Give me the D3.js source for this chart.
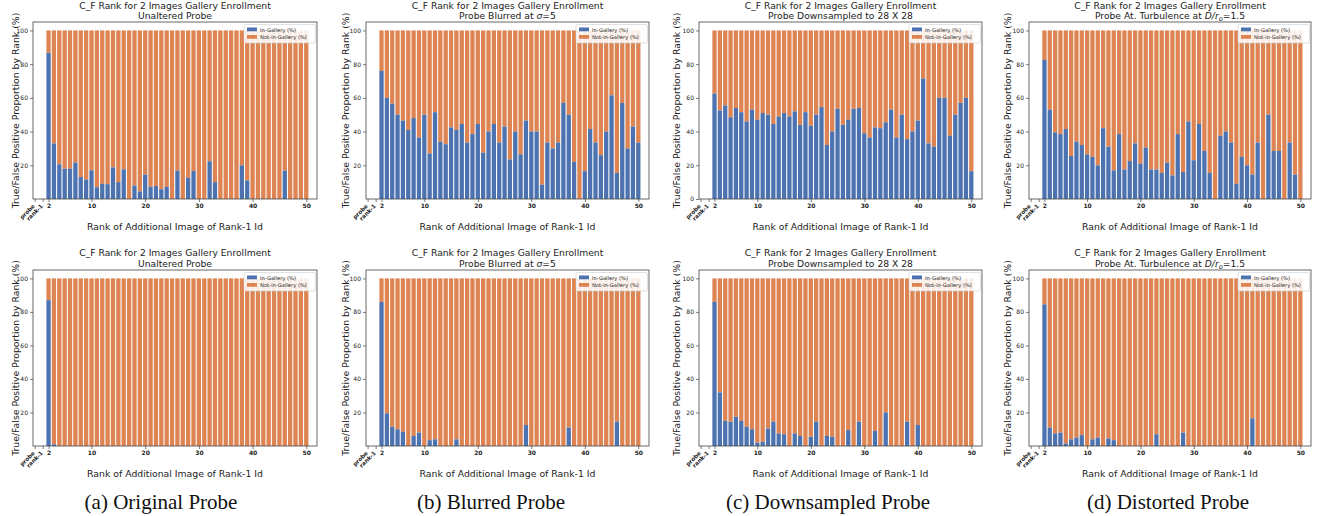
<!DOCTYPE html>
<html>
<head>
<meta charset="utf-8">
<script src="https://cdn.jsdelivr.net/npm/d3@7"></script>
<style>
  body { margin: 0; background: #fff; }
  svg { display: block; font-family: "DejaVu Sans", sans-serif; }
  .tick text { fill: #222; }
</style>
</head>
<body>
<svg id="fig" width="1320" height="516"></svg>
<script>
"use strict";

// rank of the additional image (x categories)
const ranks = [2,3,4,5,6,7,8,9,10,11,12,13,14,15,16,17,18,19,20,21,22,23,24,25,26,
  27,28,29,30,31,32,33,34,35,36,37,38,39,40,41,42,43,44,45,46,47,48,49,50];

// In-Gallery (%) per rank, top row
const origTop = [86.7,33,20.6,18,18,21.6,13,11.5,17,7,9,8.8,18.8,10,17.6,0,8,4.5,14.5,7.3,7.7,5.8,7.2,0,16.8,
  0,12.6,16.6,0,0,22.4,10,0,0,0,0,20,11,0,0,0,0,0,0,16.8,0,0,0,0];
const blurTop = [76,60,56.5,50,46.5,41,48,36.5,50,27,51.5,34,32.5,42.5,41,44.5,33.5,38.5,44.5,27.5,40,44.5,33.5,43,23.5,
  40,26.5,46.5,40,40,8.5,33.5,30,33.5,57,50,22,0,16.5,41.5,33.5,26,40,61.5,15.5,57,30,43,33.5];
const downTop = [62.5,52.5,55.5,48.5,54,51.5,46,53,47,51,50,44.5,49,51,49,52,44,51.5,43.5,50,54.5,32,40,53.5,44,
  47,53.5,54,39,36.5,42.5,42,45.5,53,36.5,50,35.5,40,46.5,71.5,33,31,60,60,37.5,50,57,60,16.5];
const distTop = [82.5,53,39.5,38.5,41.5,25.5,34,32,26.5,25,20,42,31,17,38.5,17.5,22.5,33,21,30.5,17.5,17.5,15.5,21.5,14,
  38.5,16,46,23,44.5,28.5,15.5,0,37.5,40,33.5,9,25,20,14.5,33.5,0,50,28.5,28.5,0,33.5,14.5,0];

// In-Gallery (%) per rank, bottom row
const origBottom = [87,1,0,0,0,0,0,0,0,0,0,0,0,0,0,0,0,0,0,0,0,0,0,0,0,
  0,0,0,0,0,0,0,0,0,0,0,0,0,0,0,0,0,0,0,0,0,0,0,0];
const blurBottom = [86,19.5,11.5,10,8.5,0,6,8,0,3.5,4,0,0,0,4,0,0,0,0,0,0,0,0,0,0,
  0,0,12.5,0,0,0,0,0,0,0,11,0,0,0,0,0,0,0,0,14.5,0,0,0,0];
const downBottom = [86,32,15,14.5,17.5,15,11.5,10,2,2.5,10.5,14.5,7.5,7,0,7.5,6,0,5.5,14.5,0,6,5.5,0,0,
  9.5,0,14.5,0,0,9,0,20,0,0,0,14.5,0,12.5,0,0,0,0,0,0,0,0,0,0];
const distBottom = [84.5,11,7.5,8,1.5,4,5,6.5,0,4,5,0,4.5,3.5,0,0,0,0,0,0,0,7,0,0,0,
  0,8,0,0,0,0,0,0,0,0,0,0,0,0,16.5,0,0,0,0,0,0,0,0,0];

const xTicks = [2,10,20,30,40,50];
const yTicks = [20,40,60,80,100];
const yTicksWithZero = [0,20,40,60,80,100];
const seriesNames = ["In-Gallery (%)", "Not-in-Gallery (%)"];
const captions = ["(a) Original Probe", "(b) Blurred Probe", "(c) Downsampled Probe", "(d) Distorted Probe"];

const blue = "#4c72b0", orange = "#dd8452";

// column geometry (plot frame left/right) and row geometry
const cols = [
  {L: 33, R: 317, yl: 15},
  {L: 366, R: 649, yl: 345},
  {L: 699, R: 982, yl: 676},
  {L: 1029, R: 1311, yl: 1007}
];
const rows = [
  {T: 22, B: 199, t1: 8.5, t2: 19},
  {T: 270, B: 446, t1: 255.5, t2: 266.5}
];

const subtitles = [
  [{t: "Unaltered Probe"}],
  [{t: "Probe Blurred at "}, {t: "σ", i: true}, {t: "=5"}],
  [{t: "Probe Downsampled to 28 X 28"}],
  [{t: "Probe At. Turbulence at "}, {t: "D/r", i: true}, {t: "o", i: true, sub: true}, {t: "=1.5"}]
];

const panels = [
  {row: 0, col: 0, data: origTop, yt: yTicks},
  {row: 0, col: 1, data: blurTop, yt: yTicks},
  {row: 0, col: 2, data: downTop, yt: yTicksWithZero},
  {row: 0, col: 3, data: distTop, yt: yTicks},
  {row: 1, col: 0, data: origBottom, yt: yTicks},
  {row: 1, col: 1, data: blurBottom, yt: yTicks},
  {row: 1, col: 2, data: downBottom, yt: yTicks},
  {row: 1, col: 3, data: distBottom, yt: yTicks}
];

const svg = d3.select("#fig");

panels.forEach(p => {
  const c = cols[p.col], r = rows[p.row];
  const x = d3.scaleLinear().domain([-0.9, 52]).range([c.L, c.R]);
  const y = d3.scaleLinear().domain([0, 105]).range([r.B, r.T]);
  const g = svg.append("g");
  const cx = (c.L + c.R) / 2;

  const rows2 = ranks.map((k, i) => ({k: k, v: p.data[i]}));

  // orange (not in gallery) stacked on top of blue
  g.selectAll("rect.ng").data(rows2).enter().append("rect")
    .attr("class", "ng")
    .attr("x", d => x(d.k - 0.4))
    .attr("width", d => x(d.k + 0.4) - x(d.k - 0.4))
    .attr("y", d => y(100))
    .attr("height", d => y(d.v) - y(100))
    .attr("fill", orange);

  g.selectAll("rect.ig").data(rows2.filter(d => d.v > 0)).enter().append("rect")
    .attr("class", "ig")
    .attr("x", d => x(d.k - 0.4))
    .attr("width", d => x(d.k + 0.4) - x(d.k - 0.4))
    .attr("y", d => y(d.v))
    .attr("height", d => y(0) - y(d.v))
    .attr("fill", blue);

  // frame
  g.append("rect")
    .attr("x", c.L).attr("y", r.T)
    .attr("width", c.R - c.L).attr("height", r.B - r.T)
    .attr("fill", "none").attr("stroke", "#444").attr("stroke-width", 0.8);

  // y axis
  const ya = g.append("g").attr("transform", "translate(" + c.L + ",0)")
    .call(d3.axisLeft(y).tickValues(p.yt).tickSize(3).tickPadding(2));
  ya.select(".domain").remove();
  ya.selectAll("line").attr("stroke", "#444").attr("stroke-width", 0.7);
  ya.selectAll("text").attr("font-size", 6).attr("font-family", "DejaVu Sans");

  // x axis
  const xa = g.append("g").attr("transform", "translate(0," + r.B + ")")
    .call(d3.axisBottom(x).tickValues(xTicks).tickSize(3).tickPadding(2));
  xa.select(".domain").remove();
  xa.selectAll("line").attr("stroke", "#444").attr("stroke-width", 0.7);
  xa.selectAll("text").attr("font-size", 6).attr("font-weight", "bold")
    .attr("font-family", "DejaVu Sans");

  // the two extra ticks left of rank 2
  [-0.5, 1].forEach(t => {
    g.append("line").attr("x1", x(t)).attr("x2", x(t))
      .attr("y1", r.B).attr("y2", r.B + 3)
      .attr("stroke", "#444").attr("stroke-width", 0.7);
  });
  const pl = g.append("g")
    .attr("transform", "translate(" + x(1) + "," + r.B + ") rotate(-45)")
    .attr("font-size", 5.6).attr("font-weight", "bold").attr("fill", "#222")
    .attr("text-anchor", "end");
  pl.append("text").attr("x", -11).attr("y", -0.3).text("probe");
  pl.append("text").attr("x", -5.2).attr("y", 5.4).text("rank-1");

  // titles
  g.append("text").attr("x", cx).attr("y", r.t1)
    .attr("text-anchor", "middle").attr("font-size", 9.2).attr("fill", "#222")
    .text("C_F Rank for 2 Images Gallery Enrollment");
  const st = g.append("text").attr("x", cx).attr("y", r.t2)
    .attr("text-anchor", "middle").attr("font-size", 9.2).attr("fill", "#222");
  subtitles[p.col].forEach(s => {
    const ts = st.append("tspan").text(s.t);
    if (s.i) ts.attr("font-style", "italic");
    if (s.sub) ts.attr("font-size", 6.5).attr("baseline-shift", "-25%");
  });

  // y label
  g.append("text")
    .attr("transform", "translate(" + (c.yl + 3.5) + "," + ((r.T + r.B) / 2) + ") rotate(-90)")
    .attr("text-anchor", "middle").attr("font-size", 9.3).attr("fill", "#222")
    .text("True/False Positive Proportion by Rank (%)");

  // x label
  g.append("text").attr("x", cx).attr("y", r.B + 31)
    .attr("text-anchor", "middle").attr("font-size", 9.3).attr("fill", "#222")
    .text("Rank of Additional Image of Rank-1 Id");

  // legend
  const lg = g.append("g").attr("transform", "translate(" + (c.R - 73) + "," + (r.T + 2.5) + ")");
  lg.append("rect").attr("width", 71.5).attr("height", 18.5).attr("rx", 1.5)
    .attr("fill", "#fff").attr("fill-opacity", 0.85)
    .attr("stroke", "#ccc").attr("stroke-width", 0.6);
  seriesNames.forEach((n, i) => {
    lg.append("rect").attr("x", 3).attr("y", 3 + i * 7.5)
      .attr("width", 10).attr("height", 3.8)
      .attr("fill", i === 0 ? blue : orange);
    lg.append("text").attr("x", 16).attr("y", 7 + i * 7.5)
      .attr("font-size", 5.2).attr("fill", "#222").text(n);
  });
});

// sub-figure captions
const capX = [161, 491, 828, 1168];
captions.forEach((t, i) => {
  svg.append("text").attr("x", capX[i]).attr("y", 509)
    .attr("text-anchor", "middle")
    .attr("font-family", "Liberation Serif, serif")
    .attr("font-size", 21).attr("fill", "#111")
    .text(t);
});
</script>
</body>
</html>
